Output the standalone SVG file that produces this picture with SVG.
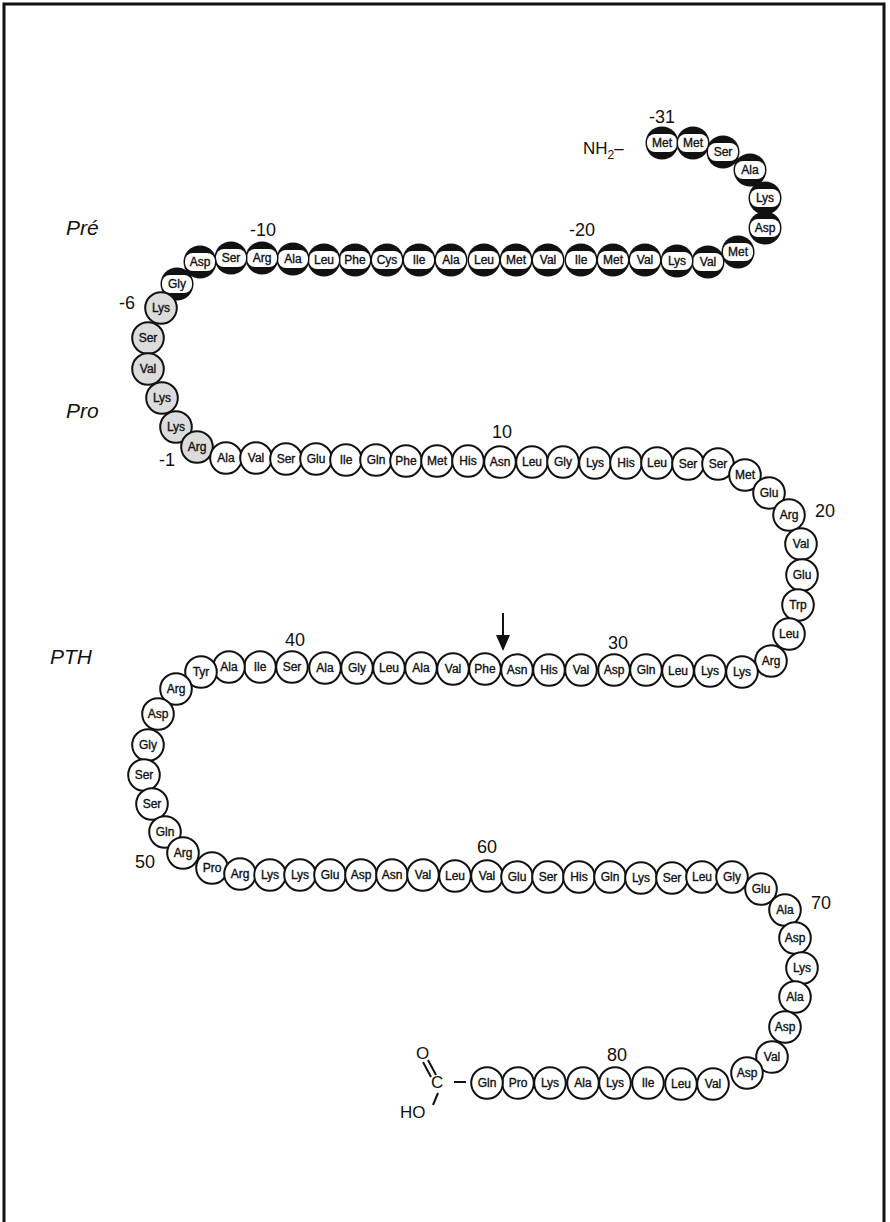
<svg xmlns="http://www.w3.org/2000/svg" xmlns:xlink="http://www.w3.org/1999/xlink" width="890" height="1222" viewBox="0 0 890 1222">
<style>
.aa{font-family:"Liberation Sans",Arial,sans-serif;font-size:12px;text-anchor:middle;fill:#111;stroke:#111;stroke-width:0.35;}
.num{font-family:"Liberation Sans",Arial,sans-serif;font-size:18px;text-anchor:middle;fill:#111;}
.reg{font-family:"Liberation Sans",Arial,sans-serif;font-size:21px;font-style:italic;fill:#111;}
.chem{font-family:"Liberation Sans",Arial,sans-serif;font-size:17px;fill:#111;}
.bond{stroke:#111;stroke-width:2;fill:none;}
</style>
<defs>
<g id="pre"><circle r="16.5" fill="#111"/><rect x="-15" y="-9" width="30" height="18" rx="8" fill="#fff"/></g>
<g id="pro"><circle r="15.8" fill="#dcdcdc" stroke="#111" stroke-width="2"/></g>
<g id="pth"><circle r="15.8" fill="#fff" stroke="#111" stroke-width="2"/></g>
</defs>
<rect width="890" height="1222" fill="#fff"/>
<path d="M4,1222 V4 H884 V1222" fill="none" stroke="#111" stroke-width="3"/>
<text class="reg" x="66" y="235">Pré</text>
<text class="reg" x="66" y="418">Pro</text>
<text class="reg" x="50" y="664">PTH</text>
<text class="num" x="662" y="123">-31</text>
<text class="num" x="263" y="236">-10</text>
<text class="num" x="582" y="236">-20</text>
<text class="num" x="127" y="309">-6</text>
<text class="num" x="167" y="466">-1</text>
<text class="num" x="502" y="438">10</text>
<text class="num" x="825" y="517">20</text>
<text class="num" x="618" y="649">30</text>
<text class="num" x="295" y="646">40</text>
<text class="num" x="145" y="868">50</text>
<text class="num" x="487" y="853">60</text>
<text class="num" x="821" y="909">70</text>
<text class="num" x="617" y="1061">80</text>
<text class="chem" x="583" y="154">NH<tspan font-size="12" dy="5">2</tspan><tspan dy="-5">–</tspan></text>
<text class="chem" x="416" y="1059">O</text>
<text class="chem" x="431" y="1088">C</text>
<text class="chem" x="400" y="1118">HO</text>
<g id="connectors">
<path class="bond" d="M454,1082 H466"/>
<path class="bond" d="M423,1062 L431,1077 M428,1060 L436,1075"/>
<path class="bond" d="M438,1093 L433,1105"/>
<path class="bond" d="M503,613 V638" stroke-width="2.5"/>
<polygon points="496,635 510,635 503,651" fill="#111"/>
</g>
<g id="n-31" transform="translate(662,143)"><use href="#pre"/><text class="aa" y="4">Met</text></g>
<g id="n-30" transform="translate(693,143)"><use href="#pre"/><text class="aa" y="4">Met</text></g>
<g id="n-29" transform="translate(723,152)"><use href="#pre"/><text class="aa" y="4">Ser</text></g>
<g id="n-28" transform="translate(750,170)"><use href="#pre"/><text class="aa" y="4">Ala</text></g>
<g id="n-27" transform="translate(765,198)"><use href="#pre"/><text class="aa" y="4">Lys</text></g>
<g id="n-26" transform="translate(765,228)"><use href="#pre"/><text class="aa" y="4">Asp</text></g>
<g id="n-25" transform="translate(738,252)"><use href="#pre"/><text class="aa" y="4">Met</text></g>
<g id="n-24" transform="translate(708,262)"><use href="#pre"/><text class="aa" y="4">Val</text></g>
<g id="n-23" transform="translate(677,261)"><use href="#pre"/><text class="aa" y="4">Lys</text></g>
<g id="n-22" transform="translate(645,260)"><use href="#pre"/><text class="aa" y="4">Val</text></g>
<g id="n-21" transform="translate(613,260)"><use href="#pre"/><text class="aa" y="4">Met</text></g>
<g id="n-20" transform="translate(581,260)"><use href="#pre"/><text class="aa" y="4">Ile</text></g>
<g id="n-19" transform="translate(548,260)"><use href="#pre"/><text class="aa" y="4">Val</text></g>
<g id="n-18" transform="translate(516,260)"><use href="#pre"/><text class="aa" y="4">Met</text></g>
<g id="n-17" transform="translate(484,260)"><use href="#pre"/><text class="aa" y="4">Leu</text></g>
<g id="n-16" transform="translate(451,260)"><use href="#pre"/><text class="aa" y="4">Ala</text></g>
<g id="n-15" transform="translate(419,260)"><use href="#pre"/><text class="aa" y="4">Ile</text></g>
<g id="n-14" transform="translate(387,260)"><use href="#pre"/><text class="aa" y="4">Cys</text></g>
<g id="n-13" transform="translate(355,260)"><use href="#pre"/><text class="aa" y="4">Phe</text></g>
<g id="n-12" transform="translate(324,260)"><use href="#pre"/><text class="aa" y="4">Leu</text></g>
<g id="n-11" transform="translate(293,259)"><use href="#pre"/><text class="aa" y="4">Ala</text></g>
<g id="n-10" transform="translate(262,258)"><use href="#pre"/><text class="aa" y="4">Arg</text></g>
<g id="n-9" transform="translate(231,258)"><use href="#pre"/><text class="aa" y="4">Ser</text></g>
<g id="n-8" transform="translate(200,262)"><use href="#pre"/><text class="aa" y="4">Asp</text></g>
<g id="n-7" transform="translate(177,284)"><use href="#pre"/><text class="aa" y="4">Gly</text></g>
<g id="n-6" transform="translate(161,308)"><use href="#pro"/><text class="aa" y="4">Lys</text></g>
<g id="n-5" transform="translate(148,338)"><use href="#pro"/><text class="aa" y="4">Ser</text></g>
<g id="n-4" transform="translate(148,369)"><use href="#pro"/><text class="aa" y="4">Val</text></g>
<g id="n-3" transform="translate(162,398)"><use href="#pro"/><text class="aa" y="4">Lys</text></g>
<g id="n-2" transform="translate(176,427)"><use href="#pro"/><text class="aa" y="4">Lys</text></g>
<g id="n-1" transform="translate(197,447)"><use href="#pro"/><text class="aa" y="4">Arg</text></g>
<g id="n1" transform="translate(226,458)"><use href="#pth"/><text class="aa" y="4">Ala</text></g>
<g id="n2" transform="translate(256,458)"><use href="#pth"/><text class="aa" y="4">Val</text></g>
<g id="n3" transform="translate(286,459)"><use href="#pth"/><text class="aa" y="4">Ser</text></g>
<g id="n4" transform="translate(316,459)"><use href="#pth"/><text class="aa" y="4">Glu</text></g>
<g id="n5" transform="translate(346,460)"><use href="#pth"/><text class="aa" y="4">Ile</text></g>
<g id="n6" transform="translate(376,460)"><use href="#pth"/><text class="aa" y="4">Gln</text></g>
<g id="n7" transform="translate(406,461)"><use href="#pth"/><text class="aa" y="4">Phe</text></g>
<g id="n8" transform="translate(437,461)"><use href="#pth"/><text class="aa" y="4">Met</text></g>
<g id="n9" transform="translate(468,461)"><use href="#pth"/><text class="aa" y="4">His</text></g>
<g id="n10" transform="translate(500,462)"><use href="#pth"/><text class="aa" y="4">Asn</text></g>
<g id="n11" transform="translate(532,462)"><use href="#pth"/><text class="aa" y="4">Leu</text></g>
<g id="n12" transform="translate(563,462)"><use href="#pth"/><text class="aa" y="4">Gly</text></g>
<g id="n13" transform="translate(595,463)"><use href="#pth"/><text class="aa" y="4">Lys</text></g>
<g id="n14" transform="translate(626,463)"><use href="#pth"/><text class="aa" y="4">His</text></g>
<g id="n15" transform="translate(657,463)"><use href="#pth"/><text class="aa" y="4">Leu</text></g>
<g id="n16" transform="translate(688,464)"><use href="#pth"/><text class="aa" y="4">Ser</text></g>
<g id="n17" transform="translate(718,464)"><use href="#pth"/><text class="aa" y="4">Ser</text></g>
<g id="n18" transform="translate(745,475)"><use href="#pth"/><text class="aa" y="4">Met</text></g>
<g id="n19" transform="translate(769,493)"><use href="#pth"/><text class="aa" y="4">Glu</text></g>
<g id="n20" transform="translate(789,515)"><use href="#pth"/><text class="aa" y="4">Arg</text></g>
<g id="n21" transform="translate(801,544)"><use href="#pth"/><text class="aa" y="4">Val</text></g>
<g id="n22" transform="translate(802,575)"><use href="#pth"/><text class="aa" y="4">Glu</text></g>
<g id="n23" transform="translate(798,605)"><use href="#pth"/><text class="aa" y="4">Trp</text></g>
<g id="n24" transform="translate(789,634)"><use href="#pth"/><text class="aa" y="4">Leu</text></g>
<g id="n25" transform="translate(771,661)"><use href="#pth"/><text class="aa" y="4">Arg</text></g>
<g id="n26" transform="translate(742,672)"><use href="#pth"/><text class="aa" y="4">Lys</text></g>
<g id="n27" transform="translate(710,671)"><use href="#pth"/><text class="aa" y="4">Lys</text></g>
<g id="n28" transform="translate(678,671)"><use href="#pth"/><text class="aa" y="4">Leu</text></g>
<g id="n29" transform="translate(646,670)"><use href="#pth"/><text class="aa" y="4">Gln</text></g>
<g id="n30" transform="translate(614,670)"><use href="#pth"/><text class="aa" y="4">Asp</text></g>
<g id="n31" transform="translate(581,670)"><use href="#pth"/><text class="aa" y="4">Val</text></g>
<g id="n32" transform="translate(549,670)"><use href="#pth"/><text class="aa" y="4">His</text></g>
<g id="n33" transform="translate(517,670)"><use href="#pth"/><text class="aa" y="4">Asn</text></g>
<g id="n34" transform="translate(485,669)"><use href="#pth"/><text class="aa" y="4">Phe</text></g>
<g id="n35" transform="translate(453,669)"><use href="#pth"/><text class="aa" y="4">Val</text></g>
<g id="n36" transform="translate(421,668)"><use href="#pth"/><text class="aa" y="4">Ala</text></g>
<g id="n37" transform="translate(389,668)"><use href="#pth"/><text class="aa" y="4">Leu</text></g>
<g id="n38" transform="translate(357,668)"><use href="#pth"/><text class="aa" y="4">Gly</text></g>
<g id="n39" transform="translate(325,668)"><use href="#pth"/><text class="aa" y="4">Ala</text></g>
<g id="n40" transform="translate(292,667)"><use href="#pth"/><text class="aa" y="4">Ser</text></g>
<g id="n41" transform="translate(260,667)"><use href="#pth"/><text class="aa" y="4">Ile</text></g>
<g id="n42" transform="translate(229,667)"><use href="#pth"/><text class="aa" y="4">Ala</text></g>
<g id="n43" transform="translate(201,672)"><use href="#pth"/><text class="aa" y="4">Tyr</text></g>
<g id="n44" transform="translate(176,689)"><use href="#pth"/><text class="aa" y="4">Arg</text></g>
<g id="n45" transform="translate(158,714)"><use href="#pth"/><text class="aa" y="4">Asp</text></g>
<g id="n46" transform="translate(148,745)"><use href="#pth"/><text class="aa" y="4">Gly</text></g>
<g id="n47" transform="translate(144,775)"><use href="#pth"/><text class="aa" y="4">Ser</text></g>
<g id="n48" transform="translate(152,804)"><use href="#pth"/><text class="aa" y="4">Ser</text></g>
<g id="n49" transform="translate(165,832)"><use href="#pth"/><text class="aa" y="4">Gln</text></g>
<g id="n50" transform="translate(183,853)"><use href="#pth"/><text class="aa" y="4">Arg</text></g>
<g id="n51" transform="translate(212,868)"><use href="#pth"/><text class="aa" y="4">Pro</text></g>
<g id="n52" transform="translate(240,874)"><use href="#pth"/><text class="aa" y="4">Arg</text></g>
<g id="n53" transform="translate(270,875)"><use href="#pth"/><text class="aa" y="4">Lys</text></g>
<g id="n54" transform="translate(300,875)"><use href="#pth"/><text class="aa" y="4">Lys</text></g>
<g id="n55" transform="translate(330,875)"><use href="#pth"/><text class="aa" y="4">Glu</text></g>
<g id="n56" transform="translate(361,875)"><use href="#pth"/><text class="aa" y="4">Asp</text></g>
<g id="n57" transform="translate(392,875)"><use href="#pth"/><text class="aa" y="4">Asn</text></g>
<g id="n58" transform="translate(423,875)"><use href="#pth"/><text class="aa" y="4">Val</text></g>
<g id="n59" transform="translate(455,876)"><use href="#pth"/><text class="aa" y="4">Leu</text></g>
<g id="n60" transform="translate(487,876)"><use href="#pth"/><text class="aa" y="4">Val</text></g>
<g id="n61" transform="translate(517,877)"><use href="#pth"/><text class="aa" y="4">Glu</text></g>
<g id="n62" transform="translate(548,877)"><use href="#pth"/><text class="aa" y="4">Ser</text></g>
<g id="n63" transform="translate(579,877)"><use href="#pth"/><text class="aa" y="4">His</text></g>
<g id="n64" transform="translate(610,877)"><use href="#pth"/><text class="aa" y="4">Gln</text></g>
<g id="n65" transform="translate(641,878)"><use href="#pth"/><text class="aa" y="4">Lys</text></g>
<g id="n66" transform="translate(672,878)"><use href="#pth"/><text class="aa" y="4">Ser</text></g>
<g id="n67" transform="translate(702,877)"><use href="#pth"/><text class="aa" y="4">Leu</text></g>
<g id="n68" transform="translate(732,877)"><use href="#pth"/><text class="aa" y="4">Gly</text></g>
<g id="n69" transform="translate(761,889)"><use href="#pth"/><text class="aa" y="4">Glu</text></g>
<g id="n70" transform="translate(785,910)"><use href="#pth"/><text class="aa" y="4">Ala</text></g>
<g id="n71" transform="translate(795,938)"><use href="#pth"/><text class="aa" y="4">Asp</text></g>
<g id="n72" transform="translate(802,968)"><use href="#pth"/><text class="aa" y="4">Lys</text></g>
<g id="n73" transform="translate(795,997)"><use href="#pth"/><text class="aa" y="4">Ala</text></g>
<g id="n74" transform="translate(785,1027)"><use href="#pth"/><text class="aa" y="4">Asp</text></g>
<g id="n75" transform="translate(772,1057)"><use href="#pth"/><text class="aa" y="4">Val</text></g>
<g id="n76" transform="translate(747,1073)"><use href="#pth"/><text class="aa" y="4">Asp</text></g>
<g id="n77" transform="translate(713,1084)"><use href="#pth"/><text class="aa" y="4">Val</text></g>
<g id="n78" transform="translate(681,1084)"><use href="#pth"/><text class="aa" y="4">Leu</text></g>
<g id="n79" transform="translate(648,1083)"><use href="#pth"/><text class="aa" y="4">Ile</text></g>
<g id="n80" transform="translate(615,1083)"><use href="#pth"/><text class="aa" y="4">Lys</text></g>
<g id="n81" transform="translate(583,1083)"><use href="#pth"/><text class="aa" y="4">Ala</text></g>
<g id="n82" transform="translate(550,1083)"><use href="#pth"/><text class="aa" y="4">Lys</text></g>
<g id="n83" transform="translate(518,1083)"><use href="#pth"/><text class="aa" y="4">Pro</text></g>
<g id="n84" transform="translate(487,1083)"><use href="#pth"/><text class="aa" y="4">Gln</text></g>
</svg>
